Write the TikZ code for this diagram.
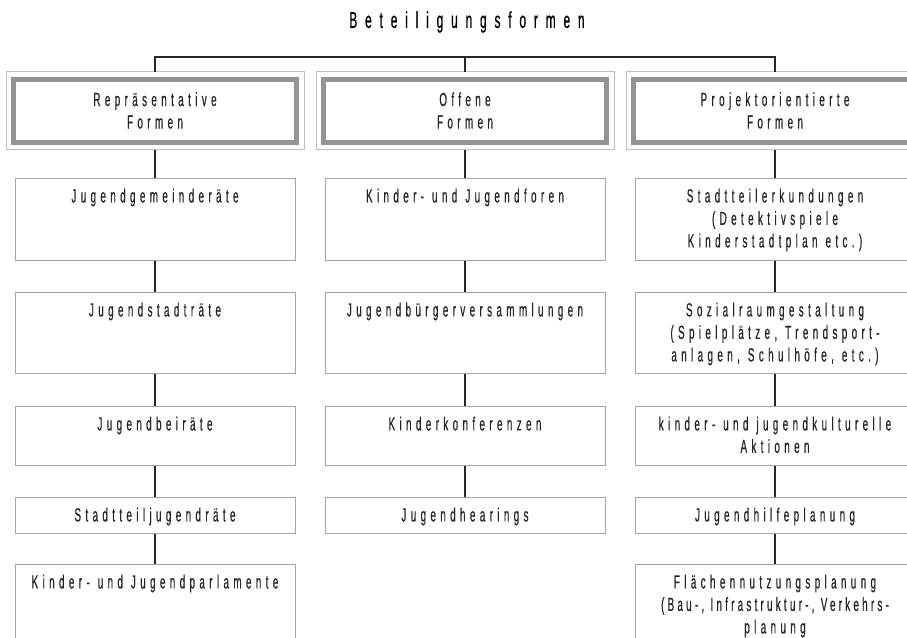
\documentclass[tikz,border=0pt]{standalone}
\usepackage{fontspec}
\setmainfont{Liberation Sans}[FakeStretch=0.52, FakeBold=0.6, LetterSpace=23]
\usepackage{tikz}
\def\cellfont{\fontsize{19}{22.5}\selectfont}
\def\titlefont{\fontsize{23}{27}\selectfont\addfontfeatures{LetterSpace=34}}
\def\tight#1{{\addfontfeatures{LetterSpace=17}#1}}
\def\ws{\hspace{8pt}}

\begin{document}
\begin{tikzpicture}[x=1pt, y=-1pt,
	cell/.style={draw=black!35, line width=0.8pt, text width=280pt, inner sep=0pt, align=center, anchor=north, text height=24pt, font=\cellfont, text=black!85},
	head/.style={draw=black!42, line width=5pt, minimum width=283pt, minimum height=63pt, inner sep=0pt, align=center, font=\cellfont, text=black!85},
	frame/.style={draw=black!25, line width=0.8pt},
	link/.style={line width=1.6pt, color=black!85}]
			%%%%% START %%%%%
			
			\useasboundingbox (0, 0) rectangle (907, 637);
			\clip (0, 0) rectangle (907, 637);
			
			\node[font=\titlefont] (title) at (467, 22) {Beteiligungsformen};
			
			\node[head] (hl) at (155, 110.5) {Repräsentative\\Formen};
			\node[head] (hm) at (465, 110.5) {Offene\\Formen};
			\node[head] (hr) at (775, 110.5) {Projektorientierte\\Formen};
			\draw[frame] ([shift={(-5pt,5pt)}]hl.north west) rectangle ([shift={(5pt,-5pt)}]hl.south east);
			\draw[frame] ([shift={(-5pt,5pt)}]hm.north west) rectangle ([shift={(5pt,-5pt)}]hm.south east);
			\draw[frame] ([shift={(-5pt,5pt)}]hr.north west) rectangle ([shift={(5pt,-5pt)}]hr.south east);
			
			\node[cell, text depth=58pt] (l1) at (155, 178) {Jugendgemeinderäte};
			\node[cell, text depth=57pt] (l2) at (155, 292) {Jugendstadträte};
			\node[cell, text depth=35pt] (l3) at (155, 406) {Jugendbeiräte};
			\node[cell, text depth=12pt] (l4) at (155, 497) {Stadtteiljugendräte};
			\node[cell, text depth=76pt] (l5) at (155, 564) {Kinder-\ws und\ws Jugendparlamente};
			
			\node[cell, text depth=58pt] (m1) at (465, 178) {Kinder-\ws und\ws Jugendforen};
			\node[cell, text depth=57pt] (m2) at (465, 292) {Jugendbürgerversammlungen};
			\node[cell, text depth=35pt] (m3) at (465, 406) {Kinderkonferenzen};
			\node[cell, text depth=12pt] (m4) at (465, 497) {Jugendhearings};
			
			\node[cell, text depth=58pt] (r1) at (775, 178) {Stadtteilerkundungen\\(Detektivspiele\\Kinderstadtplan\ws etc.)};
			\node[cell, text depth=57pt] (r2) at (775, 292) {Sozialraumgestaltung\\(Spielplätze,\ws Trendsport-\\anlagen,\ws Schulhöfe,\ws etc.)};
			\node[cell, text depth=35pt] (r3) at (775, 406) {kinder-\ws und\ws jugendkulturelle\\Aktionen};
			\node[cell, text depth=12pt] (r4) at (775, 497) {Jugendhilfeplanung};
			\node[cell, text depth=76pt] (r5) at (775, 564) {Flächennutzungsplanung\\\tight{(Bau-, Infrastruktur-, Verkehrs-}\\planung};
			
			\coordinate (trunk) at (465, 57);
			\draw[link, shorten <=5pt, shorten >=5pt] (hl.north) -- (hl.north |- trunk) -- (hr.north |- trunk) -- (hr.north);
			\draw[link, shorten >=5pt] (hm.north |- trunk) -- (hm.north);
			
			\draw[link, shorten <=5pt] (hl.south) -- (l1.north);
			\draw[link, shorten <=5pt] (hm.south) -- (m1.north);
			\draw[link, shorten <=5pt] (hr.south) -- (r1.north);
			
			\foreach \a/\b in {l1/l2, l2/l3, l3/l4, l4/l5, m1/m2, m2/m3, m3/m4, r1/r2, r2/r3, r3/r4, r4/r5}
				\draw[link] (\a.south) -- (\b.north);
			
			%%%%% END %%%%%
		\end{tikzpicture}
\end{document}
